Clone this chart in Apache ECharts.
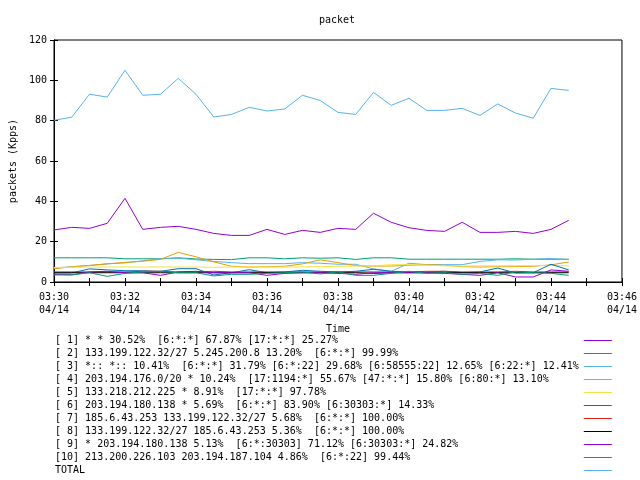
<!DOCTYPE html>
<html><head><meta charset="utf-8">
<script src="https://cdn.jsdelivr.net/npm/echarts@6/dist/echarts.min.js"></script>
<style>html,body{margin:0;padding:0;background:#fff}#c{width:640px;height:480px}</style>
</head><body><div id="c"></div>
<script>
const times = ['03:30:00','03:30:30','03:31:00','03:31:30','03:32:00','03:32:30','03:33:00','03:33:30','03:34:00','03:34:30',
'03:35:00','03:35:30','03:36:00','03:36:30','03:37:00','03:37:30','03:38:00','03:38:30','03:39:00','03:39:30',
'03:40:00','03:40:30','03:41:00','03:41:30','03:42:00','03:42:30','03:43:00','03:43:30','03:44:00','03:44:30'];
const xTicks = ['03:30','03:32','03:34','03:36','03:38','03:40','03:42','03:44','03:46'];
const dateLabel = '04/14';
const names = [
'[ 1] * * 30.52%  [6:*:*] 67.87% [17:*:*] 25.27%',
'[ 2] 133.199.122.32/27 5.245.200.8 13.20%  [6:*:*] 99.99%',
'[ 3] *:: *:: 10.41%  [6:*:*] 31.79% [6:*:22] 29.68% [6:58555:22] 12.65% [6:22:*] 12.41%',
'[ 4] 203.194.176.0/20 * 10.24%  [17:1194:*] 55.67% [47:*:*] 15.80% [6:80:*] 13.10%',
'[ 5] 133.218.212.225 * 8.91%  [17:*:*] 97.78%',
'[ 6] 203.194.180.138 * 5.69%  [6:*:*] 83.90% [6:30303:*] 14.33%',
'[ 7] 185.6.43.253 133.199.122.32/27 5.68%  [6:*:*] 100.00%',
'[ 8] 133.199.122.32/27 185.6.43.253 5.36%  [6:*:*] 100.00%',
'[ 9] * 203.194.180.138 5.13%  [6:*:30303] 71.12% [6:30303:*] 24.82%',
'[10] 213.200.226.103 203.194.187.104 4.86%  [6:*:22] 99.44%',
'TOTAL'];
const colors = ['#9400d3','#009e73','#56b4e9','#e69f00','#f0e442','#0072b2','#e51e10','#000000','#9400d3','#009e73','#56b4e9'];
const s1 = [25.8,27.1,26.6,29.1,41.5,26.1,27.1,27.6,26.1,24.1,23.1,23.1,26.1,23.6,25.6,24.6,26.6,26.1,34.1,29.6,26.9,25.6,25.1,29.6,24.6,24.6,25.1,24.1,26.1,30.6];
const s2 = [12.0,12.0,12.0,12.0,11.5,11.5,11.5,12.0,11.4,11.2,11.1,12.0,12.0,11.5,12.0,11.8,12.0,11.2,12.0,12.0,11.3,11.3,11.3,11.3,11.3,11.3,11.5,11.3,11.3,11.3];
const s3 = [6.9,7.6,8.2,9.0,9.5,10.5,11.5,11.8,11.0,10.2,9.6,9.1,9.1,9.1,9.6,9.3,8.8,8.8,6.5,5.3,9.3,8.6,8.6,8.6,10.2,11.0,10.9,11.3,11.6,11.1];
const s4 = [6.6,7.5,8.2,9.0,9.7,10.3,11.2,14.7,12.5,10.0,7.8,7.4,7.6,7.8,9.0,11.0,9.6,8.1,7.9,7.9,8.3,8.6,8.3,7.6,7.4,7.6,7.6,7.8,8.5,9.9];
const s5 = [7.2,7.3,7.4,7.4,7.5,7.4,7.5,7.4,7.4,7.3,7.4,7.5,7.4,7.4,7.5,7.6,7.8,7.9,8.0,8.6,8.6,8.3,8.0,7.9,8.0,8.0,8.1,8.1,8.2,8.0];
const s6 = [4.5,4.5,6.5,6.0,5.6,5.6,5.3,6.6,6.6,3.5,4.6,6.1,4.6,5.0,5.8,5.3,5.0,5.3,6.3,5.3,5.0,5.0,5.3,4.6,5.0,6.9,4.5,4.6,8.8,6.0];
const s7 = [5.0,5.0,5.0,5.0,5.0,5.3,5.3,5.0,5.0,5.3,5.0,5.0,5.0,5.0,5.0,5.0,5.0,5.0,5.0,5.0,5.0,5.3,5.3,5.0,5.0,5.0,5.3,5.0,5.0,5.0];
const s8 = [4.6,4.6,4.6,4.6,4.6,4.6,4.6,4.6,4.6,4.6,4.6,4.6,4.6,4.6,4.6,4.6,4.6,4.6,4.3,4.6,4.6,4.6,4.6,4.6,4.6,4.6,4.6,4.6,4.6,4.6];
const s9 = [3.8,3.6,5.0,5.3,4.6,4.6,3.3,5.0,5.3,4.6,4.6,4.6,3.3,4.3,4.6,4.6,4.3,3.8,4.6,4.6,4.6,4.6,4.3,3.8,3.3,4.6,2.5,2.5,6.0,5.3];
const s10 = [3.5,3.5,4.6,2.8,4.3,5.0,5.3,4.6,4.6,3.0,3.8,3.8,4.3,4.6,5.0,4.0,5.0,3.3,3.3,4.3,5.3,4.3,4.6,3.8,4.3,3.3,5.0,4.6,4.3,3.3];
const total = [80.2,81.7,93.1,91.7,105.0,92.6,93.1,101.0,93.1,81.8,83.1,86.6,84.8,85.8,92.6,90.0,84.1,83.1,94.0,87.6,91.1,85.1,85.1,86.1,82.6,88.3,83.8,81.2,96.0,95.0];
const allSeries = [s1,s2,s3,s4,s5,s6,s7,s8,s9,s10,total];

function toMin(t){const p=t.split(':').map(Number);return (p[0]*60+p[1]+p[2]/60)-(3*60+30);}
const tickMin = xTicks.map(t=>toMin(t+':00'));
const font = 'DejaVu Sans Mono';
const chart = echarts.init(document.getElementById('c'), null, {renderer:'canvas'});
const tickCommon = {show:true, inside:true, length:4, lineStyle:{color:'#000',width:1}};
chart.setOption({
  animation:false,
  backgroundColor:'#fff',
  color: colors,
  textStyle:{fontFamily:font,fontSize:10,color:'#000'},
  title:{text:'packet', left:337, textAlign:'center', top:14, padding:0, textStyle:{fontFamily:font,fontSize:10,fontWeight:'normal',color:'#000',lineHeight:13}},
  grid:{left:52,right:18,top:40,bottom:198,show:true,borderColor:'#000',borderWidth:1,backgroundColor:'transparent'},
  legend:{orient:'vertical', left:55, top:334, padding:0, height:146, align:'right', itemGap:0, itemWidth:28, itemHeight:1, icon:'rect',
    data: names.map((n,i)=>({name:n, itemStyle:{color:colors[i]}})),
    formatter: n => n.padEnd(87,' '),
    textStyle:{fontFamily:font,fontSize:10,color:'#000',lineHeight:13}, selectedMode:false},
  xAxis:[{type:'value', min:tickMin[0], max:tickMin[tickMin.length-1], interval:2, position:'bottom',
    name:'Time', nameLocation:'middle', nameGap:42, nameTextStyle:{fontFamily:font,fontSize:10,color:'#000'},
    axisLine:{show:true,lineStyle:{color:'#000'}}, axisTick:tickCommon, minorTick:{show:true,splitNumber:2,length:4,lineStyle:{color:'#000'}},
    splitLine:{show:false},
    axisLabel:{color:'#000',fontFamily:font,fontSize:10,lineHeight:13,margin:9,
      formatter:v=>{const i=tickMin.findIndex(m=>Math.abs(m-v)<1e-6);return i>=0?xTicks[i]+'\n'+dateLabel:'';}}},
    {type:'value', min:tickMin[0], max:tickMin[tickMin.length-1], interval:2, position:'top',
    axisLine:{show:true,lineStyle:{color:'#000'}}, axisTick:tickCommon, minorTick:{show:true,splitNumber:2,length:4,lineStyle:{color:'#000'}},
    axisLabel:{show:false}, splitLine:{show:false}}],
  yAxis:[{type:'value', min:0, max:120, interval:20, position:'left',
    name:'packets (Kpps)', nameLocation:'middle', nameGap:36, nameRotate:90, nameTextStyle:{fontFamily:font,fontSize:10,color:'#000'},
    axisLine:{show:true,lineStyle:{color:'#000'}}, axisTick:tickCommon, splitLine:{show:false},
    axisLabel:{color:'#000',fontFamily:font,fontSize:10,margin:7}},
    {type:'value', min:0, max:120, interval:20, position:'right',
    axisLine:{show:true,lineStyle:{color:'#000'}}, axisTick:tickCommon, splitLine:{show:false}, axisLabel:{show:false}}],
  series: allSeries.map((arr,i)=>({
    name:names[i], type:'line', showSymbol:false, symbol:'none', color:colors[i],
    lineStyle:{width:1,color:colors[i]}, z:2+i,
    data: arr.map((v,j)=>[toMin(times[j]), v])
  }))
});
</script></body></html>
